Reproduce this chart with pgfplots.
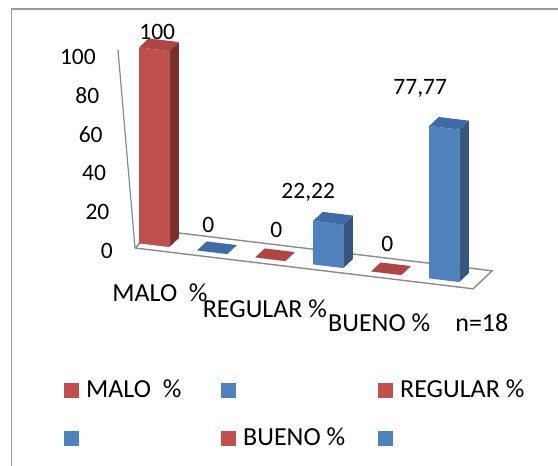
\documentclass[border=0pt]{standalone}
\usepackage{pgfplots}
\usepackage{pgfplotstable}
\pgfplotsset{compat=1.18}
\usepackage{fontspec}
\setmainfont{Carlito}

\definecolor{redF}{HTML}{C0504D}
\definecolor{redS}{HTML}{7C302E}
\definecolor{redT}{HTML}{AE4744}
\definecolor{bluF}{HTML}{4F81BD}
\definecolor{bluS}{HTML}{35577F}
\definecolor{bluT}{HTML}{3F6CA6}
\definecolor{floorline}{HTML}{8A8A8A}
\definecolor{framegray}{HTML}{9A9A9A}

% one row per column: slot, value, colour prefix, label offset (pt)
\pgfplotstableread{
pos value col ldx ldy
0   100   red   3   17
1   0     blu  -4   27
2   0     red   6   29
3   22.22 blu -20   30
4   0     red   1   29
5   77.77 blu -24   39
}\bars

\pgfkeys{/pgf/number format/.cd, use comma, assume math mode=true}

\newcommand\numfont{\fontsize{23.5}{28}\selectfont}
\newcommand\txtfont{\fontsize{26}{31}\selectfont}

\begin{document}
\begin{tikzpicture}
\useasboundingbox (0pt,0pt) rectangle (558pt,466pt);
\draw[framegray, line width=1.3pt] (11.5pt,457pt) rectangle (600pt,-20pt);

\begin{axis}[
  at={(149.5pt,216.25pt)}, anchor=origin,
  x={(58pt,-7pt)}, y={(19pt,18pt)}, z={(0pt,1.96pt)},
  xmin=-0.25, xmax=5.58, ymin=0, ymax=1, zmin=0, zmax=100,
  hide axis, clip=false, no markers,
]
% floor outline and value axis line
\addplot3[floorline, line width=1.4pt, forget plot] coordinates
  {(-0.25,0,0) (5.58,0,0) (5.58,1,0) (-0.25,1,0) (-0.25,0,0)};
\addplot3[floorline, line width=1.2pt, forget plot] coordinates
  {(-0.25,0,0) (-0.543,0,100)};
\pgfplotsinvokeforeach{0,20,40,60,80,100}{
  \node[anchor=east, inner sep=0pt, font=\numfont]
    at (axis cs:{-0.25-0.00293*#1},0,#1) [xshift=-22pt, yshift={-3-0.04*#1}] {#1};
}
% the columns
\pgfplotsforeachungrouped \i in {0,...,5}{%
  \pgfplotstablegetelem{\i}{pos}\of\bars \let\p\pgfplotsretval
  \pgfplotstablegetelem{\i}{value}\of\bars \let\v\pgfplotsretval
  \pgfplotstablegetelem{\i}{col}\of\bars \let\c\pgfplotsretval
  \pgfplotstablegetelem{\i}{ldx}\of\bars \let\dx\pgfplotsretval
  \pgfplotstablegetelem{\i}{ldy}\of\bars \let\dy\pgfplotsretval
  \pgfmathsetmacro\xl{\p-0.26}%
  \pgfmathsetmacro\xr{\p+0.26}%
  \edef\tmp{%
    \noexpand\addplot3[fill=\c F, draw=none, forget plot] coordinates
      {(\xl,0.25,0) (\xr,0.25,0) (\xr,0.25,\v) (\xl,0.25,\v)};
    \noexpand\addplot3[fill=\c S, draw=none, forget plot] coordinates
      {(\xr,0.25,0) (\xr,0.75,0) (\xr,0.75,\v) (\xr,0.25,\v)};
    \noexpand\addplot3[fill=\c T, draw=none, forget plot] coordinates
      {(\xl,0.25,\v) (\xr,0.25,\v) (\xr,0.75,\v) (\xl,0.75,\v)};
    \noexpand\node[font=\noexpand\numfont, inner sep=0pt]
      at (axis cs:\p,0.25,\v) [xshift=\dx pt, yshift=\dy pt]
      {\noexpand\pgfmathprintnumber{\v}};
  }\tmp
}
% category names along the floor
\node[font=\txtfont, inner sep=0pt] at (axis cs:0.18,0,-21.4) {MALO\ \ \%};
\node[font=\txtfont, inner sep=0pt] at (axis cs:1.99,0,-23.1) {REGULAR \%};
\node[font=\txtfont, inner sep=0pt] at (axis cs:3.96,0,-23.2) {BUENO \%};
\node[font=\txtfont, inner sep=0pt] at (axis cs:5.73,0,-16.9) {n=18};
\end{axis}

% legend
\begin{axis}[
  at={(0pt,0pt)}, anchor=south west, scale only axis,
  width=558pt, height=466pt, xmin=0, xmax=1, ymin=0, ymax=1,
  hide axis,
  legend columns=3,
  legend image code/.code={\fill[#1, draw=none] (0pt,-7.5pt) rectangle (15pt,7.5pt);},
  legend style={at={(64/558,1-379/466)}, anchor=north west,
    draw=none, fill=none, inner sep=0pt, font=\txtfont,
    nodes={inner sep=0pt, text height=18pt, text depth=5pt, anchor=west},
    /tikz/every odd column/.append style={column sep=7pt},
    /tikz/every even column/.append style={column sep=0pt},
    /tikz/row sep=25pt},
]
\addplot[draw=none, forget plot] coordinates {(0,0)};
\addlegendimage{fill=redF, draw=none}\addlegendentry{\makebox[135pt][l]{MALO\ \ \%}}
\addlegendimage{fill=bluF, draw=none}\addlegendentry{\makebox[135pt][l]{}}
\addlegendimage{fill=redF, draw=none}\addlegendentry{\makebox[135pt][l]{REGULAR \%}}
\addlegendimage{fill=bluF, draw=none}\addlegendentry{\makebox[135pt][l]{}}
\addlegendimage{fill=redF, draw=none}\addlegendentry{\makebox[135pt][l]{BUENO \%}}
\addlegendimage{fill=bluF, draw=none}\addlegendentry{\makebox[135pt][l]{}}
\end{axis}
\end{tikzpicture}
\end{document}
